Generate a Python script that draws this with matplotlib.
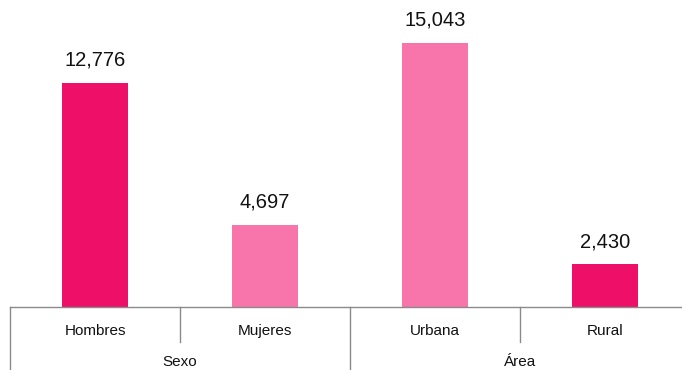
import matplotlib.pyplot as plt
import matplotlib.transforms as mtransforms

categories = ["Hombres", "Mujeres", "Urbana", "Rural"]
values = [12776, 4697, 15043, 2430]
groups = ["Sexo", "Área"]
group_size = 2

dark_pink = "#EE1068"
light_pink = "#F775AA"
bar_colors = [dark_pink, light_pink, light_pink, dark_pink]
line_color = "#8a8a8a"

plt.rcParams['font.family'] = ['Liberation Sans', 'DejaVu Sans']

W, H = 682, 370
fig = plt.figure(figsize=(W / 100, H / 100), dpi=100)
base_y = 307  # pixel row of the axis line
ax = fig.add_axes([10 / W, (H - base_y) / H, 680 / W, base_y / H])

x = list(range(len(categories)))
bars = ax.bar(x, values, width=0.39, color=bar_colors)
ax.set_xlim(-0.5, len(categories) - 0.5)
ax.set_ylim(0, 17500)

for b, v in zip(bars, values):
    ax.annotate(f"{v:,}", (b.get_x() + b.get_width() / 2, v),
                xytext=(0, 9.5), textcoords="offset points",
                ha="center", va="bottom", fontsize=14.5, color="#111111")

ax.set_yticks([])
ax.set_xticks([])
for s in ["top", "left", "right"]:
    ax.spines[s].set_visible(False)
ax.spines["bottom"].set_color(line_color)
ax.spines["bottom"].set_linewidth(1)
ax.patch.set_alpha(0)

tr = mtransforms.blended_transform_factory(ax.transData, fig.transFigure)
y_axis = (H - base_y) / H
y_short = (H - 342) / H

# separators between categories and between groups
for i in range(len(categories) + 1):
    xs = i - 0.5
    y_end = 0 if i % group_size == 0 else y_short
    ax.plot([xs, xs], [y_axis, y_end], transform=tr, color=line_color,
            lw=1, clip_on=False)

for i, c in enumerate(categories):
    fig.text(i, (H - 331) / H, c, transform=tr, ha="center", va="center",
             fontsize=11, color="#111111")

for g, name in enumerate(groups):
    xc = g * group_size + (group_size - 1) / 2
    fig.text(xc, 1 / H, name, transform=tr, ha="center", va="bottom",
             fontsize=11, color="#111111")

fig.savefig("out.png", dpi=100)
